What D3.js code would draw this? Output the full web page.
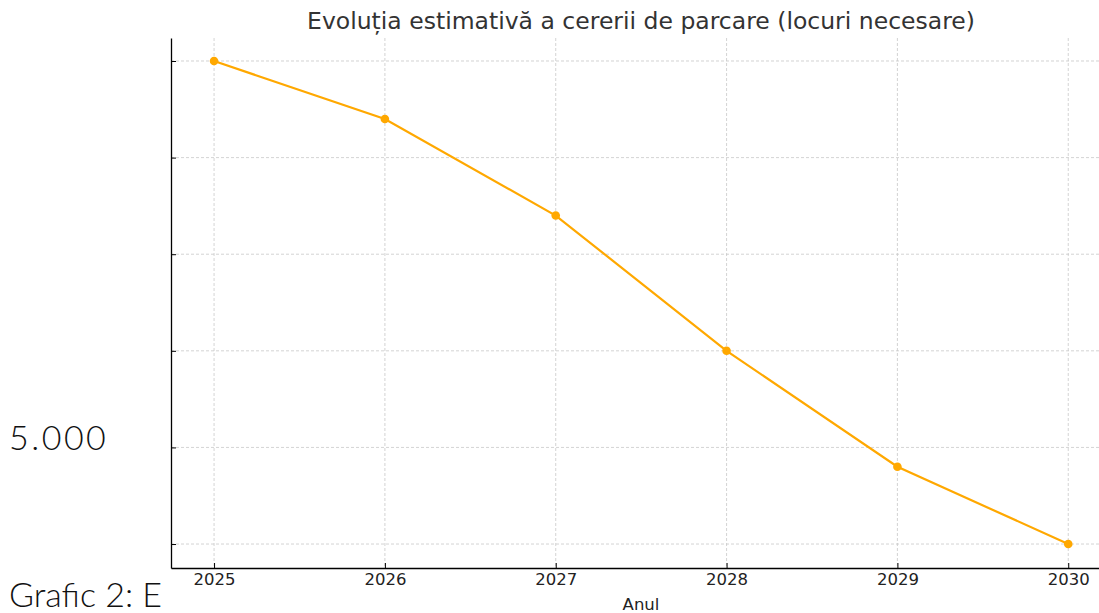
<!DOCTYPE html>
<html>
<head>
<meta charset="utf-8">
<script src="https://cdn.jsdelivr.net/npm/d3@7"></script>
<style>
  body { margin: 0; background: #fff; }
  svg { display: block; }
</style>
</head>
<body>
<div id="chart"></div>
<script>
/* Evolutia estimativa a cererii de parcare */

const years = [2025, 2026, 2027, 2028, 2029, 2030];
const locuri = [9000, 8400, 7400, 6000, 4800, 4000];
const yTicks = [4000, 5000, 6000, 7000, 8000, 9000];

const width = 1099, height = 613;
const margin = { top: 38, right: 0, bottom: 45, left: 171 };

let svg = d3.select("#chart")
    .append("svg")
    .attr("width", width)
    .attr("height", height);

const x = d3.scaleLinear()
    .domain([2024.748, 2030.18])
    .range([margin.left, width - margin.right]);

const y = d3.scaleLinear()
    .domain([3752, 9238])
    .range([height - margin.bottom, margin.top]);

// text from the surrounding document (sits under the chart picture)
svg.append("text")
    .text("5.000")
    .attr("x", 9)
    .attr("y", 450)
    .attr("font-family", "Lato")
    .attr("font-weight", 300)
    .attr("font-size", 34)
    .attr("letter-spacing", 2.5)
    .attr("fill", "#111");

svg.append("text")
    .text("Grafic 2: E")
    .attr("x", 9)
    .attr("y", 607)
    .attr("font-family", "Lato")
    .attr("font-weight", 300)
    .attr("font-size", 34)
    .attr("fill", "#111");

// grid
svg.append("g")
    .selectAll("line")
    .data(yTicks)
    .join("line")
    .attr("x1", margin.left)
    .attr("x2", width)
    .attr("y1", d => y(d))
    .attr("y2", d => y(d))
    .attr("stroke", "#c8c8c8")
    .attr("stroke-width", 0.8)
    .attr("stroke-dasharray", "3,2");

svg.append("g")
    .selectAll("line")
    .data(years)
    .join("line")
    .attr("x1", d => x(d))
    .attr("x2", d => x(d))
    .attr("y1", margin.top)
    .attr("y2", height - margin.bottom)
    .attr("stroke", "#c8c8c8")
    .attr("stroke-width", 0.8)
    .attr("stroke-dasharray", "3,2");

// axes, ticks pointing in
const xAxis = g => g
    .attr("transform", `translate(0,${height - margin.bottom})`)
    .call(d3.axisBottom(x).tickValues(years).tickFormat(d3.format("d")).tickSizeInner(-5).tickSizeOuter(0).tickPadding(5))
    .call(g => g.select(".domain").attr("stroke", "#000").attr("stroke-width", 1.3))
    .call(g => g.selectAll("text").attr("font-family", "DejaVu Sans").attr("font-size", 16.5).attr("fill", "#222"));

const yAxis = g => g
    .attr("transform", `translate(${margin.left},0)`)
    .call(d3.axisLeft(y).tickValues(yTicks).tickFormat("").tickSizeInner(-5).tickSizeOuter(0))
    .call(g => g.select(".domain").attr("stroke", "#000").attr("stroke-width", 1.3));

svg.append("g").call(xAxis);
svg.append("g").call(yAxis);

// line
const line = d3.line()
    .x((d, i) => x(years[i]))
    .y(d => y(d));

svg.append("path")
    .datum(locuri)
    .attr("fill", "none")
    .attr("stroke", "#FFA800")
    .attr("stroke-width", 2.2)
    .attr("d", line);

svg.append("g")
    .selectAll("circle")
    .data(locuri)
    .join("circle")
    .attr("cx", (d, i) => x(years[i]))
    .attr("cy", d => y(d))
    .attr("r", 4.3)
    .attr("fill", "#FFA800");

// titles
svg.append("text")
    .text("Evoluția estimativă a cererii de parcare (locuri necesare)")
    .attr("x", 641)
    .attr("y", 29)
    .attr("text-anchor", "middle")
    .attr("font-family", "DejaVu Sans")
    .attr("font-size", 23.5)
    .attr("fill", "#333");

svg.append("text")
    .text("Anul")
    .attr("x", 641)
    .attr("y", 610)
    .attr("text-anchor", "middle")
    .attr("font-family", "DejaVu Sans")
    .attr("font-size", 16.5)
    .attr("fill", "#222");
</script>
</body>
</html>
